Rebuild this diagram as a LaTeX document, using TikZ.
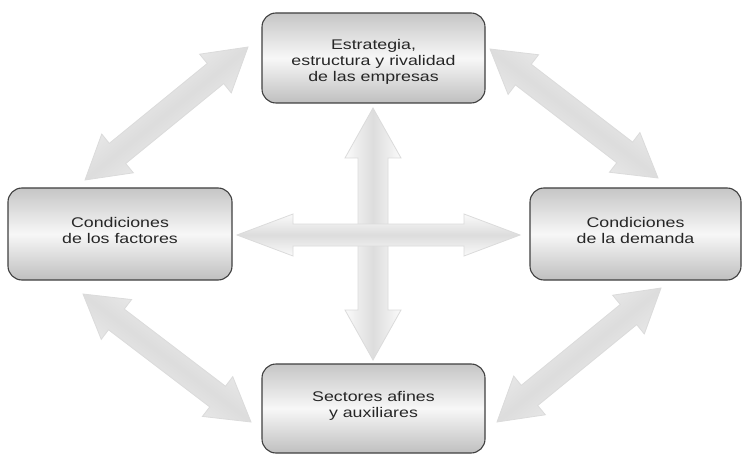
\documentclass[tikz,border=0pt]{standalone}
\usepackage{fontspec}
\setmainfont{Liberation Sans}[FakeStretch=1.27]
\usetikzlibrary{calc}
\tikzset{
  box/.style={draw=black!75, line width=1.1pt, rounded corners=14pt,
    top color=gray!45, bottom color=gray!50, middle color=gray!6,
    inner sep=0pt},
  boxtext/.style={align=center, text=black!85, font=\fontsize{14}{16}\selectfont, inner sep=0pt},
  fat/.style={draw=gray!28, line width=0.8pt, left color=gray!4, right color=gray!4, middle color=gray!27},
}
% #1 a, #2 b, #3 shaft half width, #4 head half width, #5 head length, #6 shading angle
\newcommand\fatarrow[6]{%
  \path[fat, shading angle=#6] (#1)
   -- ($(#1)!#5!(#2)!#4!90:(#2)$)
   -- ($(#1)!#5!(#2)!#3!90:(#2)$)
   -- ($(#2)!#5!(#1)!#3!-90:(#1)$)
   -- ($(#2)!#5!(#1)!#4!-90:(#1)$)
   -- (#2)
   -- ($(#2)!#5!(#1)!#4!90:(#1)$)
   -- ($(#2)!#5!(#1)!#3!90:(#1)$)
   -- ($(#1)!#5!(#2)!#3!-90:(#2)$)
   -- ($(#1)!#5!(#2)!#4!-90:(#2)$)
   -- cycle;}
\begin{document}
\begin{tikzpicture}[x=1pt,y=-1pt]
\fill[white] (0,0) rectangle (743,454);
\useasboundingbox (0,0) rectangle (743,454);
% arrow end points
\coordinate (vt) at (373,108);
\coordinate (vb) at (373,360);
\coordinate (hl) at (237,235);
\coordinate (hr) at (520,235);
\coordinate (tla) at (85,180);
\coordinate (tlb) at (248,47);
\coordinate (tra) at (490,49);
\coordinate (trb) at (658,178);
\coordinate (bra) at (497,422);
\coordinate (brb) at (661,288);
\coordinate (bla) at (83,294);
\coordinate (blb) at (251,422);
% arrows
\fatarrow{tla}{tlb}{13pt}{25pt}{42pt}{39}
\fatarrow{tra}{trb}{13pt}{25pt}{42pt}{-37}
\fatarrow{bra}{brb}{13pt}{25pt}{42pt}{39}
\fatarrow{bla}{blb}{13pt}{25pt}{42pt}{-37}
\fatarrow{vt}{vb}{15pt}{28pt}{50pt}{90}
\fatarrow{hl}{hr}{11pt}{21pt}{56pt}{0}
% boxes
\node[box, minimum width=223pt, minimum height=90pt,
  label={[boxtext, name=stratT, yshift=-4pt]center:{Estrategia,\\estructura y rivalidad\\de las empresas}}] (strat) at (373.5,58) {};
\node[box, minimum width=224pt, minimum height=92pt,
  label={[boxtext, name=factT, yshift=4pt]center:{Condiciones\\de los factores}}] (fact) at (120,234) {};
\node[box, minimum width=211pt, minimum height=92pt,
  label={[boxtext, name=demT, yshift=4pt]center:{Condiciones\\de la demanda}}] (dem) at (635.5,234) {};
\node[box, minimum width=223pt, minimum height=89pt,
  label={[boxtext, name=sectT, yshift=3pt]center:{Sectores afines\\y auxiliares}}] (sect) at (373.5,408.5) {};
\end{tikzpicture}
\end{document}
